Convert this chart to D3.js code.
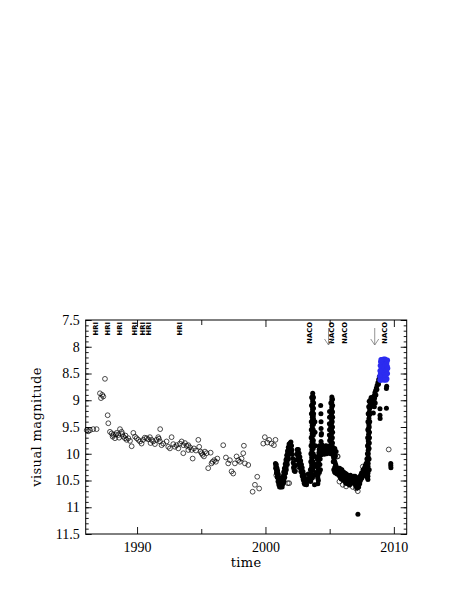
<!DOCTYPE html>
<html><head><meta charset="utf-8">
<script src="https://cdn.jsdelivr.net/npm/d3@7/dist/d3.min.js"></script>
<style>body{margin:0;background:#fff}svg{display:block}</style>
</head><body><svg id="c" width="463" height="599"></svg>
<script>
// ---------- data ----------
const openObs = [
[1986.08,9.56],[1986.2,9.58],[1986.34,9.56],[1986.59,9.54],[1986.85,9.54],
[1987.11,8.87],[1987.19,8.96],[1987.29,8.90],[1987.37,8.93],[1987.5,8.60],
[1987.71,9.28],[1987.76,9.43],
[1987.89,9.59],[1988.02,9.62],[1988.1,9.68],[1988.15,9.65],[1988.28,9.71],[1988.35,9.64],[1988.41,9.61],[1988.54,9.65],
[1988.6,9.70],[1988.67,9.54],[1988.80,9.59],[1988.85,9.63],[1988.93,9.68],[1989.06,9.71],[1989.1,9.66],[1989.19,9.74],
[1989.32,9.71],[1989.45,9.76],[1989.58,9.86],[1989.71,9.61],[1989.84,9.68],[1989.97,9.71],[1990.10,9.74],[1990.23,9.77],
[1990.35,9.81],[1990.48,9.74],[1990.6,9.70],[1990.74,9.71],[1990.87,9.73],[1991.00,9.69],[1991.05,9.80],[1991.13,9.74],
[1991.26,9.77],[1991.39,9.82],[1991.52,9.74],[1991.65,9.69],[1991.7,9.72],[1991.8,9.54],[1991.78,9.77],[1991.91,9.84],
[1992.04,9.81],[1992.30,9.77],[1992.43,9.87],[1992.56,9.90],[1992.69,9.69],[1992.82,9.82],[1992.95,9.87],[1993.08,9.84],
[1993.21,9.90],[1993.34,9.81],[1993.47,9.77],[1993.60,9.84],[1993.6,9.99],[1993.73,9.80],[1993.86,9.85],[1993.99,9.84],
[1993.99,9.93],[1994.12,9.88],[1994.25,9.93],[1994.33,10.09],[1994.43,9.90],[1994.59,9.94],[1994.77,9.74],[1994.84,9.87],
[1994.95,9.96],[1995.03,9.99],[1995.10,10.02],[1995.21,10.05],[1995.29,9.96],[1995.42,9.99],[1995.54,10.27],[1995.73,9.98],
[1995.8,10.18],[1995.88,10.15],[1996.01,10.12],[1996.14,10.15],[1996.25,10.09],[1996.71,9.84],[1996.92,10.07],[1997.10,10.18],
[1997.23,10.12],[1997.36,10.33],[1997.49,10.37],[1997.62,10.18],[1997.75,10.05],[1997.88,10.12],[1998.01,10.15],[1998.14,10.09],
[1998.27,9.99],[1998.32,9.85],[1998.40,10.18],[1998.66,10.21],[1999.00,10.71],[1999.18,10.58],[1999.36,10.43],[1999.51,10.65],
[1999.83,9.81],[1999.95,9.69],[2000.14,9.79],[2000.29,9.74],[2000.47,9.81],[2000.66,9.84],[2000.78,9.74],
[2000.84,10.40],[2001.74,10.55],[2001.85,10.55],[2002.21,10.27],[2002.26,10.21],[2002.39,10.24],[2002.65,10.30],
[2003.58,10.46],[2003.84,10.40],[2004.6,9.99],[2005.58,10.05],[2005.63,10.05],[2005.76,10.52],[2006.02,10.58],
[2006.28,10.61],[2006.54,10.58],[2006.8,10.62],[2007.06,10.65],[2007.19,10.70],[2007.45,10.40],[2007.58,10.24],
[2009.6,9.92]
];
const filledObs = [
// 2000.8-2001.3 decline
[2000.78,10.18],[2000.81,10.23],[2000.84,10.27],[2000.86,10.31],[2000.89,10.35],[2000.92,10.38],[2000.95,10.42],[2000.98,10.45],
[2001.01,10.49],[2001.04,10.52],[2001.07,10.55],[2001.11,10.58],[2001.15,10.60],[2001.19,10.62],[2001.23,10.61],[2000.88,10.26],
[2000.94,10.32],[2001.00,10.39],[2001.06,10.46],[2001.12,10.52],[2001.18,10.56],[2001.26,10.58],[2001.30,10.62],
[2000.84,10.20],[2000.90,10.28],[2000.96,10.36],[2001.02,10.44],[2001.08,10.50],[2001.14,10.55],[2001.20,10.58],
[2000.80,10.27],[2000.86,10.36],[2000.92,10.44],[2000.98,10.52],[2001.04,10.58],[2001.10,10.62],
// 2001.3-2002.0 rise
[2001.33,10.57],[2001.36,10.52],[2001.40,10.47],[2001.43,10.42],[2001.47,10.37],[2001.50,10.31],[2001.54,10.26],[2001.58,10.20],
[2001.62,10.14],[2001.66,10.09],[2001.70,10.03],[2001.74,9.98],[2001.78,9.93],[2001.83,9.88],[2001.88,9.84],[2001.93,9.80],
[2001.98,9.78],[2001.39,10.55],[2001.45,10.46],[2001.52,10.37],[2001.60,10.25],[2001.68,10.15],[2001.76,10.04],
[2001.30,10.50],[2001.36,10.42],[2001.42,10.34],[2001.48,10.27],[2001.54,10.19],[2001.60,10.11],[2001.66,10.03],[2001.72,9.95],
[2001.78,9.88],[2001.84,9.82],[2001.44,10.52],[2001.50,10.44],[2001.56,10.36],[2001.62,10.30],[2001.70,10.20],[2001.78,10.10],
[2001.86,10.00],[2001.92,9.92],
// 2002.0-2002.5
[2002.03,9.85],[2002.06,9.93],[2002.09,10.01],[2002.12,10.09],[2002.16,10.17],[2002.20,10.25],[2002.24,10.32],
[2002.30,10.33],[2002.35,10.22],[2002.40,10.11],[2002.44,10.01],
// 2002.5-2003.2 decline
[2002.48,9.92],[2002.52,9.96],[2002.56,10.01],[2002.60,10.05],[2002.64,10.10],[2002.68,10.14],[2002.72,10.19],[2002.76,10.23],
[2002.80,10.27],[2002.84,10.32],[2002.88,10.36],[2002.92,10.40],[2002.96,10.44],[2003.00,10.47],[2003.04,10.51],[2003.08,10.54],
[2003.12,10.57],[2002.58,10.09],[2002.66,10.19],[2002.74,10.28],[2002.82,10.35],[2002.90,10.43],[2002.98,10.50],[2003.06,10.57],
[2003.16,10.54],
[2002.56,9.92],[2002.62,9.99],[2002.68,10.06],[2002.74,10.13],[2002.80,10.20],[2002.86,10.26],[2002.92,10.33],[2002.98,10.39],
[2003.04,10.44],[2003.10,10.49],[2002.50,10.02],[2002.56,10.10],[2002.62,10.17],[2002.70,10.25],[2002.78,10.33],[2002.86,10.41],
[2002.94,10.48],[2003.02,10.55],[2003.20,10.58],[2003.26,10.52],
// 2003.2-2003.9 outburst
[2003.20,10.49],[2003.33,10.38],[2003.40,10.45],[2003.45,10.50],
[2003.68,8.87],[2003.68,8.92],[2003.67,8.97],[2003.68,9.02],[2003.67,9.07],[2003.66,9.12],[2003.67,9.17],[2003.66,9.22],
[2003.66,9.27],[2003.65,9.32],[2003.66,9.37],[2003.65,9.42],[2003.64,9.47],[2003.65,9.52],[2003.64,9.57],[2003.64,9.62],
[2003.63,9.67],[2003.64,9.72],[2003.63,9.77],[2003.62,9.82],[2003.63,9.87],[2003.62,9.92],[2003.61,9.97],[2003.62,10.02],
[2003.60,10.07],[2003.61,10.12],[2003.59,10.17],[2003.60,10.22],[2003.58,10.27],[2003.57,10.32],[2003.58,10.37],[2003.56,10.42],
[2003.55,10.47],[2003.52,10.52],[2003.72,9.30],[2003.72,9.55],[2003.70,9.80],[2003.70,10.05],[2003.68,10.30],[2003.66,10.45],
[2003.74,8.95],[2003.75,9.05],[2003.74,9.15],[2003.75,9.25],[2003.74,9.35],[2003.74,9.45],[2003.73,9.65],[2003.73,9.75],
[2003.72,9.90],[2003.72,10.00],[2003.71,10.15],[2003.70,10.25],[2003.70,10.40],[2003.60,8.95],[2003.59,9.10],[2003.58,9.25],
[2003.57,9.40],[2003.57,9.55],[2003.56,9.70],[2003.55,9.85],[2003.54,10.00],[2003.53,10.15],[2003.50,10.30],[2003.48,10.45],
[2003.85,9.40],[2003.86,9.60],[2003.88,9.85],[2003.87,10.05],[2003.82,10.58],[2003.90,10.20],[2003.92,10.35],
// 2004.1-2004.35
[2004.30,9.10],[2004.32,9.25],[2004.33,9.40],[2004.33,9.53],[2004.34,9.65],[2004.33,9.77],[2004.20,9.85],[2004.18,9.92],
[2004.16,9.98],[2004.15,10.04],[2004.14,10.10],[2004.13,10.16],[2004.12,10.22],[2004.11,10.28],[2004.10,10.34],[2004.09,10.40],
[2004.08,10.46],[2004.12,10.50],[2004.22,10.00],[2004.24,10.20],[2004.20,10.35],[2004.08,10.56],
[2004.03,10.10],[2004.04,10.25],[2004.02,10.40],[2004.26,10.10],[2004.28,10.30],
// 2004.4-2005.5 plateau
[2004.36,9.62],[2004.38,9.88],[2004.45,9.92],[2004.52,9.90],[2004.60,9.94],[2004.68,9.91],[2004.75,9.93],[2004.82,9.89],
[2004.90,9.92],[2004.42,9.97],[2004.55,9.96],[2004.70,9.98],[2004.85,9.97],[2004.40,9.83],[2004.65,9.86],
[2004.25,9.88],[2004.30,9.95],[2004.35,10.02],[2004.48,9.86],[2004.58,10.01],[2004.62,9.88],[2004.72,9.85],[2004.78,10.00],
[2004.88,9.86],[2004.95,9.95],[2005.05,9.92],[2005.08,10.00],[2005.25,9.88],[2005.30,9.93],[2005.35,9.98],[2005.40,9.90],
[2005.45,10.04],[2005.50,9.96],
// 2005.0-2005.25 outburst
[2005.17,8.94],[2005.17,8.99],[2005.16,9.04],[2005.17,9.09],[2005.16,9.14],[2005.16,9.19],[2005.15,9.24],[2005.16,9.29],
[2005.15,9.34],[2005.15,9.39],[2005.14,9.44],[2005.15,9.49],[2005.14,9.54],[2005.14,9.59],[2005.13,9.64],[2005.14,9.69],
[2005.13,9.74],[2005.12,9.79],[2005.13,9.84],[2005.12,9.89],[2005.12,9.94],[2005.20,9.40],[2005.21,9.70],[2005.22,9.90],
[2004.99,9.21],[2004.99,9.32],[2004.98,9.44],[2004.99,9.55],[2004.98,9.65],[2005.00,9.75],[2005.02,9.85],
[2005.22,8.98],[2005.23,9.10],[2005.22,9.22],[2005.23,9.32],[2005.22,9.50],[2005.23,9.60],[2005.22,9.80],
[2005.09,9.05],[2005.08,9.30],[2005.08,9.50],[2005.07,9.70],[2005.07,9.90],
// 2005.2-2005.7 decline
[2005.22,9.98],[2005.26,10.02],[2005.30,10.06],[2005.34,10.10],[2005.38,10.14],[2005.42,10.17],[2005.46,10.20],[2005.50,10.23],
[2005.55,10.26],[2005.60,10.28],[2005.65,10.30],[2005.32,10.30],[2005.38,10.34],[2005.45,10.36],[2005.28,10.15],
[2005.40,10.25],[2005.52,10.32],[2005.58,10.38],
// 2005.7-2006.7 minimum
[2005.70,10.32],[2005.75,10.36],[2005.80,10.33],[2005.85,10.39],[2005.90,10.36],[2005.95,10.42],[2006.00,10.38],[2006.05,10.44],
[2006.10,10.41],[2006.15,10.46],[2006.20,10.43],[2006.25,10.48],[2006.30,10.45],[2006.35,10.50],[2006.40,10.47],[2006.45,10.52],
[2006.50,10.49],[2006.55,10.52],[2006.60,10.48],[2006.65,10.53],[2005.78,10.27],[2005.92,10.30],[2006.08,10.34],[2006.22,10.37],
[2006.38,10.40],[2006.52,10.44],[2006.68,10.46],
[2005.72,10.40],[2005.82,10.44],[2005.90,10.47],[2006.00,10.48],[2006.12,10.50],[2006.25,10.55],[2006.40,10.56],[2006.55,10.58],
[2006.70,10.55],[2006.80,10.50],[2005.95,10.30],[2006.15,10.36],[2006.30,10.38],[2006.45,10.42],[2006.62,10.40],
// 2006.9-2007.35
[2006.88,10.42],[2006.92,10.47],[2006.96,10.52],[2007.00,10.49],[2007.04,10.56],[2007.08,10.53],[2007.12,10.59],[2007.16,10.56],
[2007.20,10.61],[2007.24,10.58],[2007.28,10.55],[2007.32,10.50],[2006.98,10.42],[2007.10,10.45],[2007.22,10.48],
[2006.90,10.55],[2007.02,10.60],[2007.14,10.64],[2007.26,10.62],[2007.34,10.56],[2007.30,10.44],
[2007.20,11.13],
// 2007.35-2008.3 rise
[2007.36,10.45],[2007.42,10.40],[2007.48,10.36],[2007.54,10.38],[2007.60,10.30],[2007.66,10.33],[2007.72,10.26],[2007.78,10.22],
[2007.84,10.18],[2007.90,10.10],
[2007.40,10.50],[2007.50,10.46],[2007.58,10.42],[2007.68,10.40],[2007.76,10.34],[2007.84,10.28],[2007.90,10.22],
[2007.98,10.48],[2007.98,10.42],[2007.99,10.36],[2007.98,10.30],[2007.99,10.24],[2008.00,10.18],[2007.99,10.12],[2008.00,10.06],
[2008.01,10.00],[2008.00,9.94],[2008.01,9.88],[2008.02,9.82],[2008.01,9.76],[2008.02,9.70],[2008.03,9.64],[2008.03,9.58],
[2008.04,9.52],[2008.05,9.46],[2008.05,9.40],[2008.06,9.34],[2008.08,9.28],[2008.09,9.22],[2008.11,9.16],[2008.13,9.10],
[2008.16,9.04],[2008.19,8.99],[2008.23,8.95],[2008.08,9.50],[2008.10,9.70],[2008.07,9.90],
[2007.94,10.45],[2007.93,10.35],[2007.93,10.15],[2007.94,10.00],[2007.95,9.85],[2007.96,9.70],[2007.97,9.55],[2007.98,9.40],
[2008.00,9.25],[2008.04,9.12],[2008.08,9.02],[2008.08,10.30],[2008.07,10.10],[2008.09,9.80],[2008.10,9.60],[2008.12,9.40],
[2008.15,9.25],[2008.20,9.12],
// 2008.3-2008.9
[2008.30,8.97],[2008.38,8.95],[2008.45,8.92],[2008.52,8.86],[2008.58,8.82],[2008.64,8.77],[2008.70,8.72],[2008.76,8.67],
[2008.82,8.61],[2008.87,8.56],[2008.45,9.00],[2008.55,9.05],[2008.60,8.90],[2008.40,9.24],[2008.48,9.12],
[2008.35,9.05],[2008.50,8.96],[2008.68,8.80],[2008.80,8.70],
// 2009
[2009.42,8.78],[2009.44,8.74],[2008.92,9.16],[2008.92,9.28],[2008.93,9.34],[2009.42,9.15],
[2009.76,10.18],[2009.76,10.22],[2009.77,10.26]
];
const blueObs = [
[2008.95,8.62],[2008.98,8.58],[2009.00,8.55],[2009.02,8.50],[2009.04,8.46],[2009.06,8.42],[2009.08,8.38],[2009.10,8.34],
[2009.12,8.30],[2009.14,8.27],[2009.16,8.24],[2009.20,8.23],[2009.25,8.24],[2009.30,8.26],[2009.35,8.29],[2009.40,8.32],
[2009.00,8.62],[2009.05,8.58],[2009.10,8.52],[2009.15,8.46],[2009.20,8.40],[2009.25,8.35],[2009.30,8.32],[2009.35,8.36],
[2009.40,8.40],[2009.12,8.60],[2009.18,8.55],[2009.24,8.50],[2009.30,8.44],[2009.36,8.46],[2009.42,8.38],[2009.08,8.48],
[2009.22,8.30],[2009.28,8.40],[2009.02,8.40],[2009.06,8.30],[2008.96,8.50],[2009.33,8.52],[2009.15,8.36],[2009.45,8.30],
[2009.05,8.25],[2009.32,8.23],[2009.44,8.45],[2009.38,8.55],[2009.26,8.58],[2009.48,8.36],[2009.10,8.24],[2009.20,8.62],
[2008.90,8.55],[2008.92,8.45],[2008.94,8.35],[2008.97,8.28],[2009.50,8.25],[2009.52,8.40],[2009.50,8.50],[2009.46,8.60],
[2008.92,8.62],[2009.00,8.24],[2009.40,8.62],[2009.30,8.62]
];
const hriYears = [1986.8, 1987.7, 1988.67, 1989.84, 1990.4, 1990.87, 1993.3];
const nacoYears = [2003.45, 2005.19, 2006.18, 2009.3];
const arrowYears = [2004.91, 2008.51];
const xLabelYears = [1990, 2000, 2010];
const xMidYears = [1995, 2005];
const yLabelValues = [7.5, 8, 8.5, 9, 9.5, 10, 10.5, 11, 11.5];

// ---------- chart ----------
const L = 85.7, R = 406.7, T = 320, B = 534;
const svg = d3.select("#c");
const x = d3.scaleLinear().domain([1986, 2011]).range([L, R]);
const y = d3.scaleLinear().domain([7.5, 11.5]).range([T, B]);
const yMinor = d3.range(75, 116).map(v => v / 10);

const serif = "'Liberation Serif', serif";

function styleAxis(g) {
  g.select(".domain").remove();
  g.selectAll(".tick line").attr("stroke", "#000").attr("stroke-width", 0.9);
  g.selectAll("text").attr("font-family", serif).attr("font-size", 14).attr("fill", "#000");
}

svg.append("g").attr("transform", `translate(${L},0)`)
  .call(d3.axisLeft(y).tickValues(yMinor).tickSize(-3).tickFormat("")).call(styleAxis);
svg.append("g").attr("transform", `translate(${L},0)`)
  .call(d3.axisLeft(y).tickValues(yLabelValues).tickSize(-6).tickPadding(6).tickFormat(d => String(d))).call(styleAxis);
svg.append("g").attr("transform", `translate(${R},0)`)
  .call(d3.axisRight(y).tickValues(yMinor).tickSize(-3).tickFormat("")).call(styleAxis);
svg.append("g").attr("transform", `translate(${R},0)`)
  .call(d3.axisRight(y).tickValues(yLabelValues).tickSize(-6).tickFormat("")).call(styleAxis);
svg.append("g").attr("transform", `translate(0,${B})`)
  .call(d3.axisBottom(x).tickValues(xLabelYears).tickSize(-7).tickPadding(8).tickFormat(d3.format("d"))).call(styleAxis);
svg.append("g").attr("transform", `translate(0,${B})`)
  .call(d3.axisBottom(x).tickValues(xMidYears).tickSize(-5).tickFormat("")).call(styleAxis);
svg.append("g").attr("transform", `translate(0,${T})`)
  .call(d3.axisTop(x).tickValues(xLabelYears).tickSize(-7).tickFormat("")).call(styleAxis);
svg.append("g").attr("transform", `translate(0,${T})`)
  .call(d3.axisTop(x).tickValues(xMidYears).tickSize(-5).tickFormat("")).call(styleAxis);

svg.append("rect").attr("x", L).attr("y", T).attr("width", R - L).attr("height", B - T)
  .attr("fill", "none").attr("stroke", "#000").attr("stroke-width", 1);

svg.append("text").attr("transform", `translate(40.5,${(T + B) / 2})rotate(-90)`)
  .attr("text-anchor", "middle").attr("font-family", "'DejaVu Serif', serif").attr("font-size", 13)
  .attr("letter-spacing", 0.4).text("visual magnitude");
svg.append("text").attr("x", (L + R) / 2).attr("y", 567)
  .attr("text-anchor", "middle").attr("font-family", "'DejaVu Serif', serif").attr("font-size", 13)
  .attr("letter-spacing", 0.4).text("time");

const plot = svg.append("g");
plot.selectAll("circle.open").data(openObs).join("circle").attr("class", "open")
  .attr("cx", d => x(d[0])).attr("cy", d => y(d[1])).attr("r", 2.4)
  .attr("fill", "none").attr("stroke", "#000").attr("stroke-width", 0.7);
plot.selectAll("circle.fill").data(filledObs).join("circle").attr("class", "fill")
  .attr("cx", d => x(d[0])).attr("cy", d => y(d[1])).attr("r", 2.5).attr("fill", "#000");
plot.selectAll("circle.blue").data(blueObs).join("circle").attr("class", "blue")
  .attr("cx", d => x(d[0])).attr("cy", d => y(d[1])).attr("r", 2.6).attr("fill", "#2c2cf0");

const lab = svg.append("g").attr("font-family", "'DejaVu Sans', sans-serif").attr("font-weight", "bold")
  .attr("font-size", 6.8).attr("fill", "#000");
function vlabel(years, txt) {
  lab.selectAll(null).data(years).join("text")
    .attr("transform", d => `translate(${x(d)},${T + 2})rotate(-90)`)
    .attr("text-anchor", "end").attr("dy", "0.35em").text(txt);
}
vlabel(hriYears, "HRI");
vlabel(nacoYears, "NACO");

const arr = svg.append("g").attr("stroke", "#777").attr("stroke-width", 0.8).attr("fill", "none");
arrowYears.forEach(yr => {
  const ax = x(yr);
  arr.append("line").attr("x1", ax).attr("x2", ax).attr("y1", 328).attr("y2", 345);
  arr.append("path").attr("d", `M${ax - 4},${339} L${ax},${345} L${ax + 4},${339}`);
});
</script></body></html>
